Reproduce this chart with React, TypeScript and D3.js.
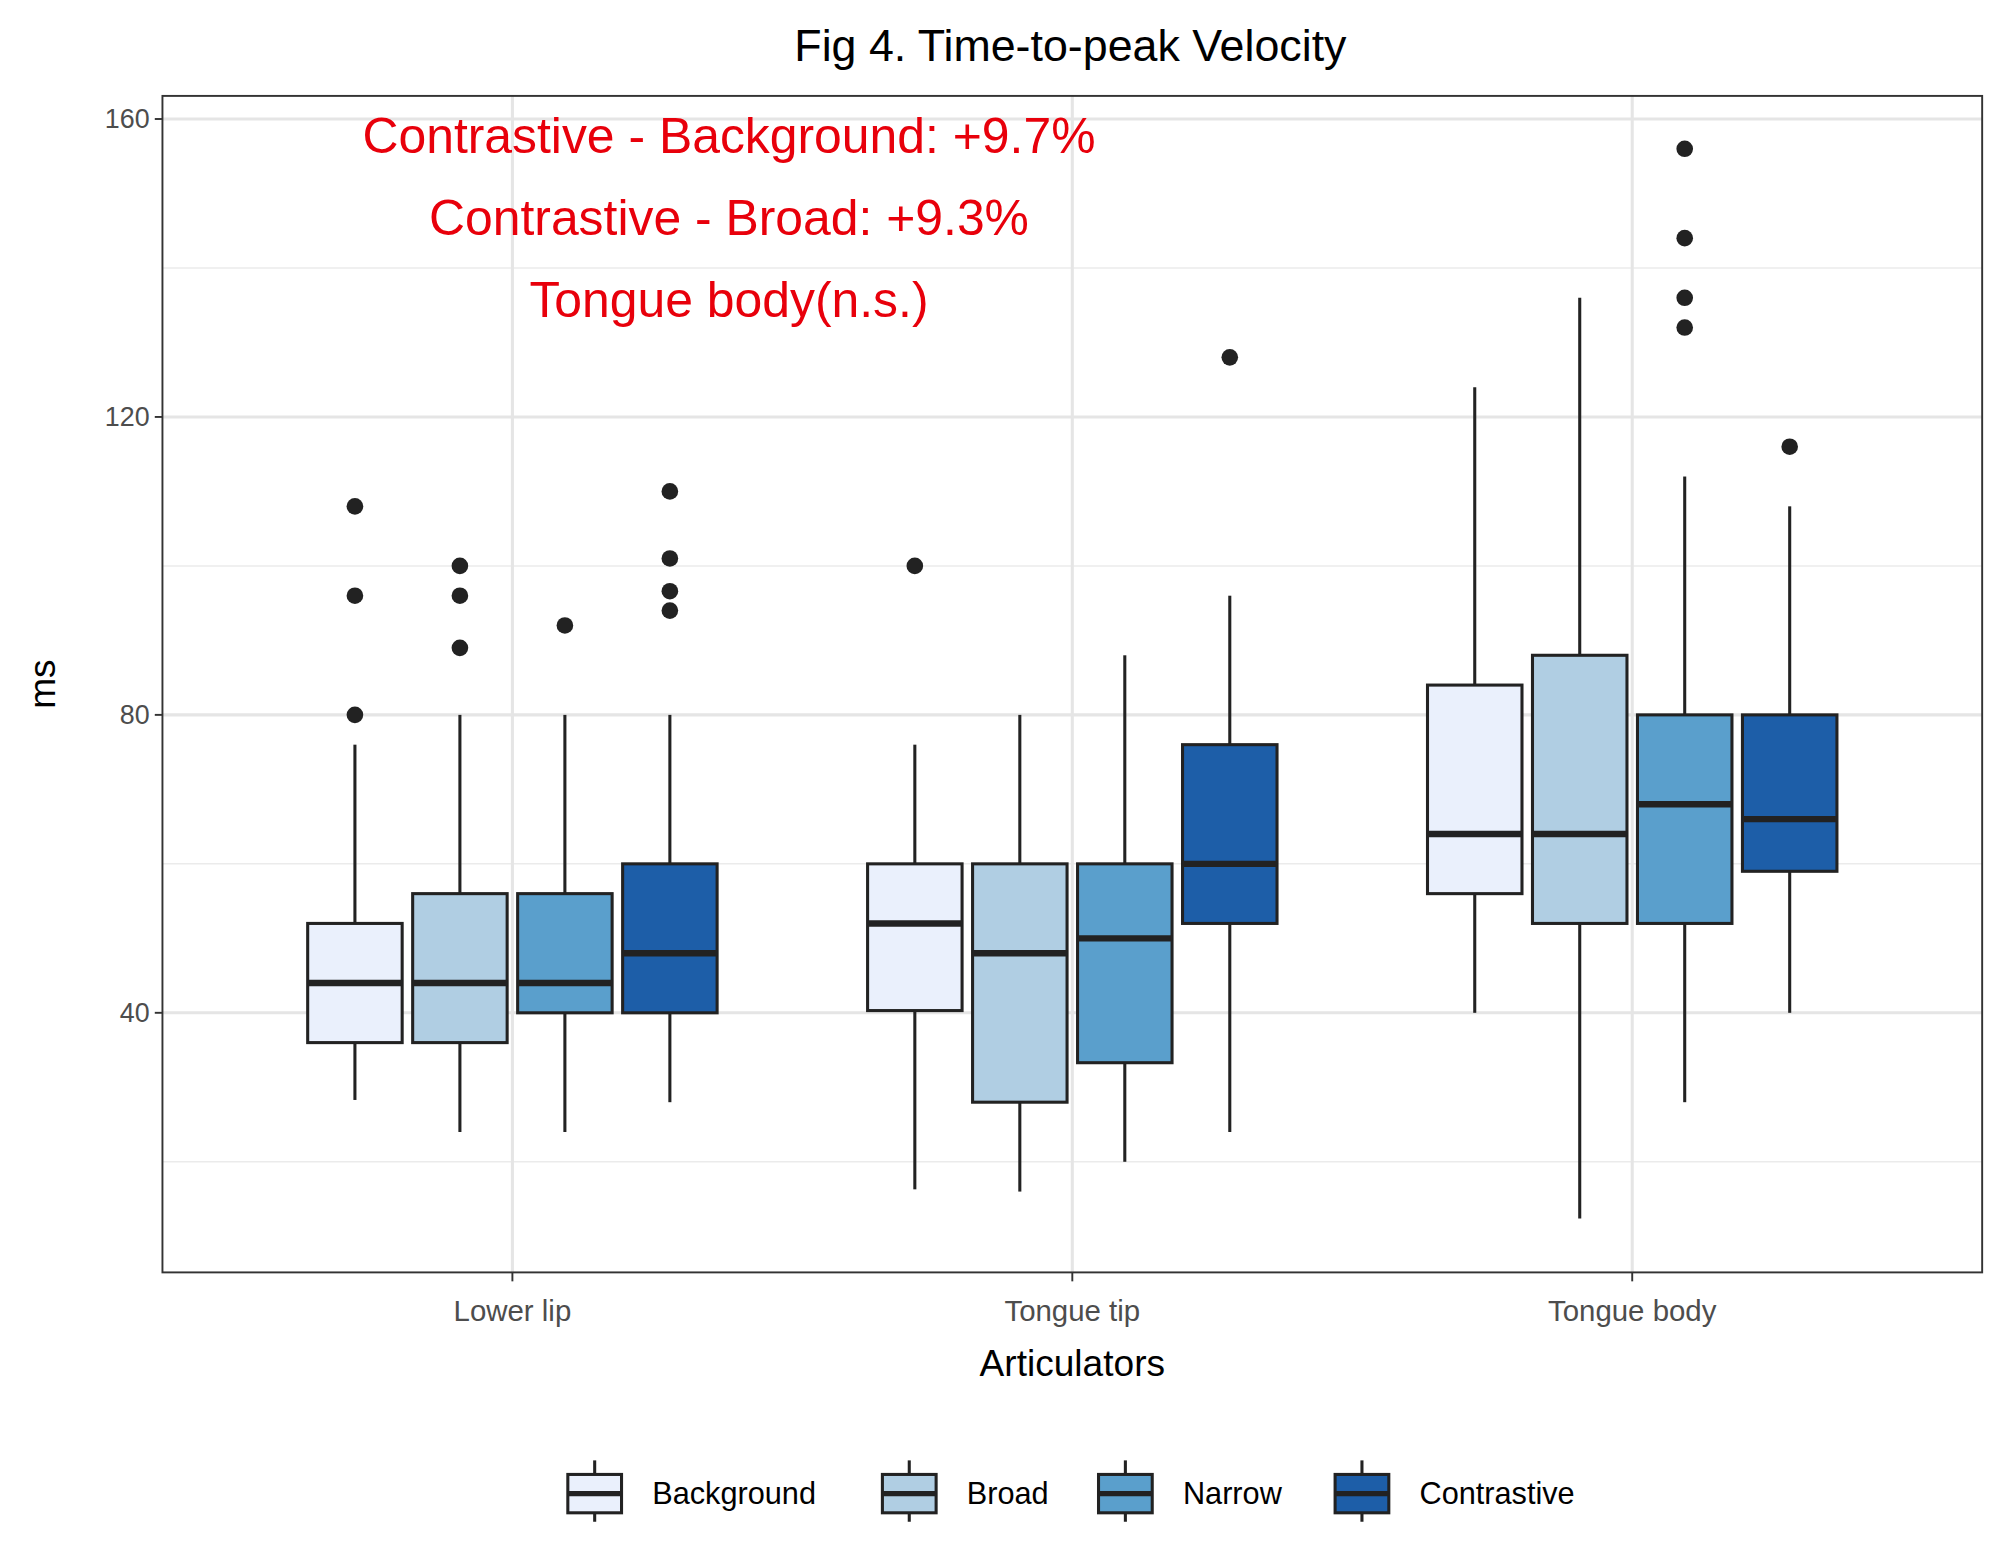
import * as d3 from 'd3';

const articulators = ['Lower lip', 'Tongue tip', 'Tongue body'];
const conditions = ['Background', 'Broad', 'Narrow', 'Contrastive'];
const fills = ['#EAF0FC', '#B0CEE3', '#5A9FCC', '#1D5EA8'];

// [whiskerLow, q1, median, q3, whiskerHigh] per articulator x condition
const stats: number[][][] = [
  [[28.3, 36, 44, 52, 76], [24, 36, 44, 56, 80], [24, 40, 44, 56, 80], [28, 40, 48, 60, 80]],
  [[16.3, 40.3, 52, 60, 76], [16, 28, 48, 60, 80], [20, 33.3, 50, 60, 88], [24, 52, 60, 76, 96]],
  [[40, 56, 64, 84, 124], [12.4, 52, 64, 88, 136], [28, 52, 68, 80, 112], [40, 59, 66, 80, 108]],
];
const outliers: number[][][] = [
  [[108, 96, 80], [100, 96, 89], [92], [110, 101, 96.6, 94]],
  [[100], [], [], [128]],
  [[], [], [156, 144, 136, 132], [116]],
];
const yTicks = [40, 80, 120, 160];
const yMinor = [20, 60, 100, 140];
const notes = ['Contrastive - Background: +9.7%', 'Contrastive - Broad: +9.3%', 'Tongue body(n.s.)'];

const W = 1560, H = 1224.6;
const m = { left: 127, right: 1550, top: 75, bottom: 995 };
const font = '"Liberation Sans", Arial, sans-serif';

export default function App() {
  const x = d3.scaleBand().domain(articulators).range([m.left, m.right]).padding(0.25);
  const y = d3.scaleLinear().domain([5.15, 163.1]).range([m.bottom, m.top]);
  const step = x.step();
  const inner = d3.scaleBand().domain(conditions).range([0, step * 0.75]);
  const bw = inner.bandwidth() * 0.9;
  const cx = (a: string, c: string) => x(a)! + x.bandwidth() / 2 - step * 0.375 + inner(c)! + inner.bandwidth() / 2;
  const stroke = '#222';

  return (
    <svg width={1995} height={1566} viewBox={`0 0 ${W} ${H}`} style={{ position: 'absolute', left: 0, top: 0 }} fontFamily={font}>
      <rect width={W} height={H} fill="#fff" />
      {yMinor.map(t => <line key={'n' + t} x1={m.left} x2={m.right} y1={y(t)} y2={y(t)} stroke="#ebebeb" strokeWidth={1.2} />)}
      {yTicks.map(t => <line key={'j' + t} x1={m.left} x2={m.right} y1={y(t)} y2={y(t)} stroke="#e5e5e5" strokeWidth={2.4} />)}
      {articulators.map(a => <line key={a} x1={x(a)! + x.bandwidth() / 2} x2={x(a)! + x.bandwidth() / 2} y1={m.top} y2={m.bottom} stroke="#e5e5e5" strokeWidth={2.4} />)}
      {articulators.map((a, i) => conditions.map((c, j) => {
        const [lo, q1, md, q3, hi] = stats[i][j];
        const X = cx(a, c);
        return (
          <g key={a + c}>
            <line x1={X} x2={X} y1={y(lo)} y2={y(q1)} stroke={stroke} strokeWidth={2.4} />
            <line x1={X} x2={X} y1={y(q3)} y2={y(hi)} stroke={stroke} strokeWidth={2.4} />
            <rect x={X - bw / 2} y={y(q3)} width={bw} height={y(q1) - y(q3)} fill={fills[j]} stroke={stroke} strokeWidth={2.4} />
            <line x1={X - bw / 2} x2={X + bw / 2} y1={y(md)} y2={y(md)} stroke={stroke} strokeWidth={5} />
            {outliers[i][j].map((o, k) => <circle key={k} cx={X} cy={y(o)} r={6.5} fill={stroke} />)}
          </g>
        );
      }))}
      <rect x={m.left} y={m.top} width={m.right - m.left} height={m.bottom - m.top} fill="none" stroke="#333" strokeWidth={1.5} />
      {yTicks.map(t => (
        <g key={'t' + t}>
          <line x1={m.left - 6} x2={m.left} y1={y(t)} y2={y(t)} stroke="#333" strokeWidth={1.5} />
          <text x={m.left - 10} y={y(t)} dy="0.35em" textAnchor="end" fontSize={21} fill="#4d4d4d">{t}</text>
        </g>
      ))}
      {articulators.map(a => (
        <g key={'x' + a}>
          <line x1={x(a)! + x.bandwidth() / 2} x2={x(a)! + x.bandwidth() / 2} y1={m.bottom} y2={m.bottom + 7} stroke="#333" strokeWidth={1.5} />
          <text x={x(a)! + x.bandwidth() / 2} y={m.bottom + 38} textAnchor="middle" fontSize={23} fill="#4d4d4d">{a}</text>
        </g>
      ))}
      <text x={(m.left + m.right) / 2} y={1076} textAnchor="middle" fontSize={29}>Articulators</text>
      <text transform={`translate(43,${(m.top + m.bottom) / 2}) rotate(-90)`} textAnchor="middle" fontSize={29}>ms</text>
      <text x={837} y={48} textAnchor="middle" fontSize={35}>Fig 4. Time-to-peak Velocity</text>
      {notes.map((n, i) => <text key={n} x={570} y={120 + i * 64} textAnchor="middle" fontSize={39} fill="#E8000B">{n}</text>)}
      {conditions.map((c, j) => {
        const lx = [465, 711, 880, 1065][j];
        return (
          <g key={'l' + c}>
            <line x1={lx} x2={lx} y1={1142} y2={1190} stroke={stroke} strokeWidth={2.4} />
            <rect x={lx - 21} y={1153} width={42} height={30} fill={fills[j]} stroke={stroke} strokeWidth={2.4} />
            <line x1={lx - 21} x2={lx + 21} y1={1168} y2={1168} stroke={stroke} strokeWidth={4} />
            <text x={lx + 45} y={1168} dy="0.35em" fontSize={24}>{c}</text>
          </g>
        );
      })}
    </svg>
  );
}
